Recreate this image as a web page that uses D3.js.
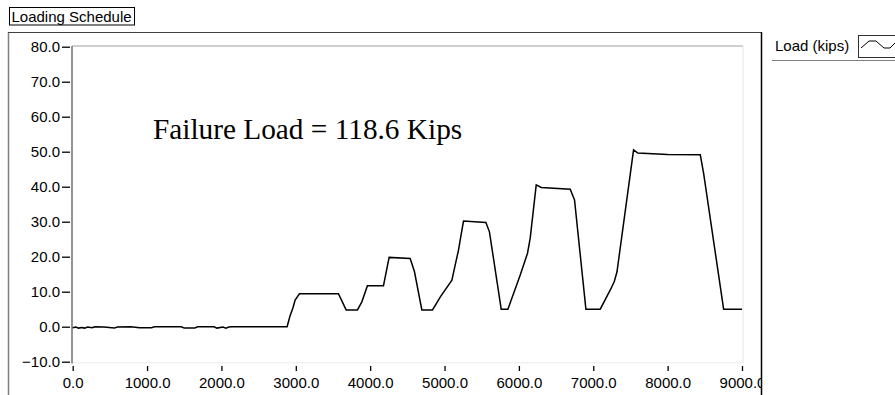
<!DOCTYPE html>
<html>
<head>
<meta charset="utf-8">
<script src="https://cdn.jsdelivr.net/npm/d3@7"></script>
<style>
  html, body { margin: 0; padding: 0; background: #fff; }
  svg { display: block; }
  .tick text { font-family: "Liberation Sans", Arial, sans-serif; font-size: 15px; fill: #000; }
  .tick line { stroke: #000; }
</style>
</head>
<body>
<svg id="chart" width="895" height="395"></svg>
<script>
// Loading schedule: time (s) vs applied load (kips)
const time = [0, 40, 80, 120, 160, 200, 260, 300, 420, 560, 600, 780, 900, 1060, 1100, 1460, 1500, 1640, 1680, 1900, 1940, 2020, 2060, 2100, 2140,
  2883, 2923, 2960, 2991, 3049, 3573, 3677, 3829, 3888, 3963, 4179, 4255, 4538, 4596, 4695, 4838,
  4946, 5099, 5143, 5188, 5211, 5255, 5556, 5604, 5762, 5852, 6018, 6116, 6152, 6233, 6300, 6690, 6748, 6901,
  7094, 7229, 7283, 7319, 7542, 7600, 8000, 8439, 8484, 8753, 9000];
const load = [-0.3, -0.1, -0.4, -0.2, -0.4, -0.1, -0.3, 0, -0.1, -0.4, -0.1, 0, -0.3, -0.3, 0, 0, -0.4, -0.4, 0, 0, -0.4, -0.1, -0.4, -0.1, 0,
  0, 3.1, 5.3, 7.6, 9.4, 9.4, 4.8, 4.8, 7.1, 11.7, 11.7, 19.8, 19.5, 15.7, 4.8, 4.8,
  8.6, 13.3, 17.6, 21.9, 24.8, 30.2, 29.8, 27.1, 5.0, 5.0, 14.8, 21.0, 25.3, 40.5, 39.8, 39.3, 36.2, 5.0,
  5.0, 10.5, 12.9, 15.7, 50.5, 49.6, 49.2, 49.1, 43.8, 5.0, 5.0];

const xTicks = [0, 1000, 2000, 3000, 4000, 5000, 6000, 7000, 8000, 9000];
const yTicks = [-10, 0, 10, 20, 30, 40, 50, 60, 70, 80];

const chartTitle = "Loading Schedule";
const seriesName = "Load (kips)";
const note = "Failure Load = 118.6 Kips";

const svg = d3.select("#chart");

const x = d3.scaleLinear().domain([0, 9000]).range([72.7, 742]);
const y = d3.scaleLinear().domain([-10, 80]).range([361.7, 46.7]);

// panel clip (right edge of the graph panel)
svg.append("defs").append("clipPath").attr("id", "panelClip")
  .append("rect").attr("x", 0).attr("y", 0).attr("width", 761).attr("height", 395);

const panel = svg.append("g").attr("clip-path", "url(#panelClip)");

// outer panel frame
svg.append("line").attr("x1", 8.5).attr("x2", 8.5).attr("y1", 32).attr("y2", 395)
  .attr("stroke", "#808080").attr("stroke-width", 1.5);
svg.append("line").attr("x1", 8).attr("x2", 762).attr("y1", 32.5).attr("y2", 32.5)
  .attr("stroke", "#404040").attr("stroke-width", 1);
svg.append("line").attr("x1", 761.5).attr("x2", 761.5).attr("y1", 32).attr("y2", 395)
  .attr("stroke", "#000").attr("stroke-width", 1.5);

// plot area border (sunken look)
panel.append("line").attr("x1", 72).attr("x2", 743).attr("y1", 46).attr("y2", 46)
  .attr("stroke", "#a0a0a0").attr("stroke-width", 1);
panel.append("line").attr("x1", 743).attr("x2", 743).attr("y1", 46).attr("y2", 363)
  .attr("stroke", "#e6e6e6").attr("stroke-width", 1);
panel.append("line").attr("x1", 72).attr("x2", 743).attr("y1", 362.8).attr("y2", 362.8)
  .attr("stroke", "#ececec").attr("stroke-width", 1);
panel.append("line").attr("x1", 72).attr("x2", 72).attr("y1", 46).attr("y2", 363.5)
  .attr("stroke", "#707070").attr("stroke-width", 1.5);

// y axis
const yAxis = d3.axisLeft(y).tickValues(yTicks).tickFormat(d3.format(".1f"))
  .tickSizeInner(8).tickSizeOuter(0).tickPadding(2);
panel.append("g").attr("transform", "translate(70,0)").call(yAxis)
  .call(g => g.select(".domain").remove())
  .call(g => g.selectAll(".tick line").attr("stroke-width", 1.3));

// x axis
const xAxis = d3.axisBottom(x).tickValues(xTicks).tickFormat(d3.format(".1f"))
  .tickSizeInner(5).tickSizeOuter(0).tickPadding(6);
panel.append("g").attr("transform", "translate(0,366)").call(xAxis)
  .call(g => g.select(".domain").remove())
  .call(g => g.selectAll(".tick line").attr("stroke-width", 1.3));

// load curve
const pts = time.map((t, i) => [t, load[i]]);
const line = d3.line().x(d => x(d[0])).y(d => y(d[1]));
panel.append("path").datum(pts).attr("d", line)
  .attr("fill", "none").attr("stroke", "#000").attr("stroke-width", 1.5)
  .attr("stroke-linejoin", "miter");

// annotation
panel.append("text").attr("x", 153).attr("y", 138.5)
  .attr("font-family", "'Liberation Serif', 'Times New Roman', serif")
  .attr("font-size", 29.3).attr("fill", "#000").text(note);

// title label box
svg.append("rect").attr("x", 9.5).attr("y", 7.5).attr("width", 125).attr("height", 17.5)
  .attr("fill", "#fff").attr("stroke", "#000").attr("stroke-width", 1);
svg.append("text").attr("x", 11.5).attr("y", 22)
  .attr("font-family", "'Liberation Sans', Arial, sans-serif").attr("font-size", 15)
  .attr("fill", "#000").text(chartTitle);

// legend
svg.append("text").attr("x", 775).attr("y", 51)
  .attr("font-family", "'Liberation Sans', Arial, sans-serif").attr("font-size", 15)
  .attr("fill", "#000").text(seriesName);
svg.append("rect").attr("x", 858.5).attr("y", 35.5).attr("width", 45).attr("height", 22)
  .attr("fill", "#fff").attr("stroke", "#303030").attr("stroke-width", 1);
svg.append("path").attr("d", "M861,48 L869,41 L876,41 L884,48 L890,48 L896,42")
  .attr("fill", "none").attr("stroke", "#000").attr("stroke-width", 1);
svg.append("line").attr("x1", 772).attr("x2", 895).attr("y1", 60.5).attr("y2", 60.5)
  .attr("stroke", "#808080").attr("stroke-width", 1);
</script>
</body>
</html>
